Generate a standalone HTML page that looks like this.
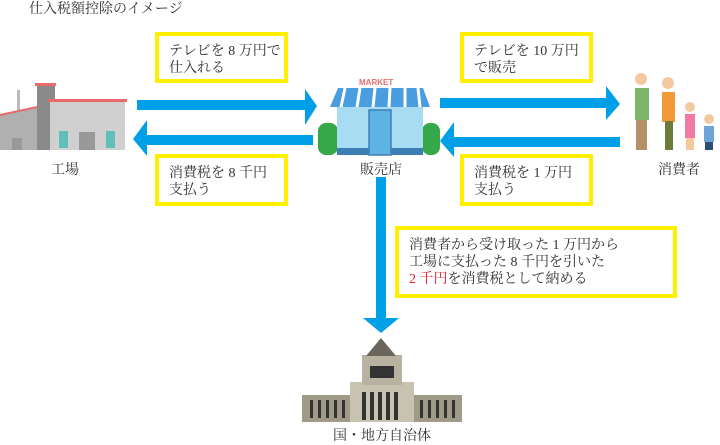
<!DOCTYPE html>
<html><head><meta charset="utf-8"><style>
body{margin:0;background:#fff;width:720px;height:445px;position:relative;overflow:hidden;font-family:"Liberation Serif","Noto Serif CJK SC","Noto Sans CJK JP",serif;color:#333}
.t{position:absolute;font-size:14px;line-height:17px;white-space:nowrap}
.b{position:absolute;border:4px solid #fff000;box-sizing:border-box;padding:7px 0 0 10px;font-size:14px;line-height:17px;white-space:nowrap}
</style></head><body>
<div class="t" style="left:29px;top:1px">仕入税額控除のイメージ</div>
<div class="b" style="left:155px;top:32px;width:133px;height:51px">テレビを 8 万円で<br>仕入れる</div>
<div class="b" style="left:155px;top:154px;width:133px;height:52px">消費税を 8 千円<br>支払う</div>
<div class="b" style="left:460px;top:32px;width:133px;height:51px">テレビを 10 万円<br>で販売</div>
<div class="b" style="left:460px;top:154px;width:133px;height:52px">消費税を 1 万円<br>支払う</div>
<div class="b" style="left:395px;top:226px;width:282px;height:72px">消費者から受け取った 1 万円から<br>工場に支払った 8 千円を引いた<br><span style="color:#e8202a">2 千円</span>を消費税として納める</div>
<div class="t" style="left:51px;top:162px">工場</div>
<div class="t" style="left:360px;top:162px">販売店</div>
<div class="t" style="left:658px;top:162px">消費者</div>
<div class="t" style="left:333px;top:428px">国・地方自治体</div>
<svg width="720" height="445" style="position:absolute;left:0;top:0">
<g fill="#00a0e9">
<polygon points="137,100 305,100 305,89 317,106 305,125 305,110 137,110"/>
<polygon points="313,135 147,135 147,120 133,139 147,156 147,145 313,145"/>
<polygon points="440,98 606,98 606,86 620,104 606,120 606,108 440,108"/>
<polygon points="620,137 454,137 454,122 440,141 454,157 454,147 620,147"/>
<polygon points="376,177 386,177 386,318 399,318 381,333 363,318 376,318"/>
</g>
<!-- factory -->
<rect x="17" y="90" width="3" height="25" fill="#bbb"/>
<polygon points="0,115 37,107 37,150 0,150" fill="#b0b0b0"/>
<line x1="0" y1="115" x2="37" y2="107" stroke="#e96a6a" stroke-width="2"/>
<rect x="37" y="84" width="18" height="66" fill="#8a8a8a"/>
<rect x="35" y="83" width="21" height="3" fill="#e96a6a"/>
<rect x="50" y="100" width="75" height="50" fill="#d0d0d0"/>
<rect x="48" y="99" width="79" height="3" fill="#e96a6a"/>
<rect x="59" y="131" width="9" height="17" fill="#5ec0b8"/><rect x="106" y="131" width="9" height="17" fill="#5ec0b8"/>
<rect x="79" y="132" width="16" height="18" fill="#999"/>
<rect x="12" y="138" width="10" height="12" fill="#999"/>
<!-- store -->
<rect x="318" y="123" width="20" height="32" rx="8" fill="#36a84a"/>
<rect x="422" y="123" width="18" height="32" rx="8" fill="#36a84a"/>
<rect x="337" y="100" width="86" height="55" fill="#a8dcf3"/>
<rect x="337" y="148" width="86" height="7" fill="#3d7fb5"/>
<rect x="369" y="110" width="22" height="45" fill="#5fb3e3" stroke="#3d7fb5" stroke-width="1.5"/>
<polygon points="330,107 338,88 423,88 430,107" fill="#4a9ee0"/>
<g stroke="#fff" stroke-width="3"><line x1="345" y1="88" x2="341" y2="107"/><line x1="360" y1="88" x2="357" y2="107"/><line x1="375" y1="88" x2="373" y2="107"/><line x1="390" y1="88" x2="389" y2="107"/><line x1="405" y1="88" x2="405" y2="107"/><line x1="418" y1="88" x2="420" y2="107"/></g>
<text x="359" y="85" font-family="Liberation Sans,sans-serif" font-weight="bold" font-size="8" fill="#e96a6a">MARKET</text>
<!-- family -->
<g>
<circle cx="641" cy="79" r="6" fill="#f5c9a0"/><rect x="635" y="88" width="14" height="32" fill="#7cb46a"/><rect x="636" y="120" width="11" height="30" fill="#b39068"/>
<circle cx="668" cy="83" r="6" fill="#f5c9a0"/><rect x="662" y="92" width="13" height="30" fill="#f29a3a"/><rect x="665" y="121" width="8" height="29" fill="#6c7a3a"/>
<circle cx="690" cy="107" r="5" fill="#f5c9a0"/><rect x="685" y="114" width="10" height="24" fill="#f27aa0"/><rect x="686" y="138" width="8" height="12" fill="#f5c9a0"/>
<circle cx="709" cy="119" r="5" fill="#f5c9a0"/><rect x="704" y="126" width="10" height="16" fill="#6ea4d8"/><rect x="705" y="142" width="8" height="8" fill="#2e4a7a"/>
</g>
<!-- diet building -->
<g fill="#a09a88">
<rect x="302" y="395" width="160" height="27"/>
<rect x="350" y="382" width="64" height="40" fill="#c8c2b0"/>
<rect x="362" y="355" width="40" height="30" fill="#b8b2a0"/>
<polygon points="366,356 381,338 396,356" fill="#6a665c"/>
</g>
<g fill="#333"><rect x="310" y="400" width="3" height="18"/><rect x="318" y="400" width="3" height="18"/><rect x="326" y="400" width="3" height="18"/><rect x="334" y="400" width="3" height="18"/><rect x="342" y="400" width="3" height="18"/><rect x="420" y="400" width="3" height="18"/><rect x="428" y="400" width="3" height="18"/><rect x="436" y="400" width="3" height="18"/><rect x="444" y="400" width="3" height="18"/><rect x="452" y="400" width="3" height="18"/>
<rect x="362" y="392" width="4" height="28"/><rect x="370" y="392" width="4" height="28"/><rect x="378" y="392" width="4" height="28"/><rect x="386" y="392" width="4" height="28"/><rect x="394" y="392" width="4" height="28"/><rect x="370" y="366" width="24" height="12"/></g>
</svg>
</body></html>
